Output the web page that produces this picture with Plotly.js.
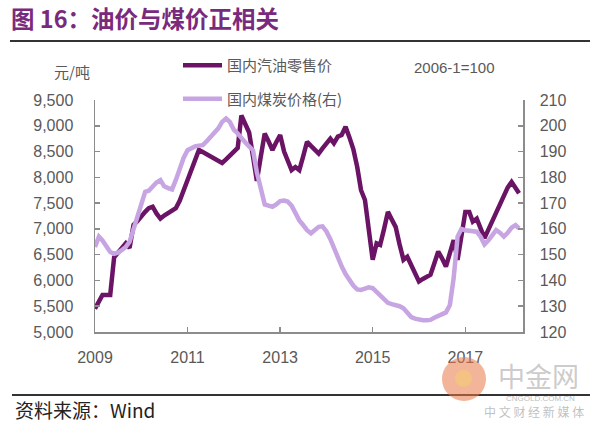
<!DOCTYPE html>
<html>
<head>
<meta charset="utf-8">
<script src="https://cdn.plot.ly/plotly-3.0.1.min.js"></script>
<style>
html,body{margin:0;padding:0;background:#fff;}
#chart{width:600px;height:429px;}
</style>
</head>
<body>
<div id="chart"></div>
<script>
// ---- data (monthly, 2009-01 .. 2018-03) ----
const startYear = 2009;
const oilName = '国内汽油零售价';
const coalName = '国内煤炭价格(右)';
const oilPrice = [
  5450, 5600, 5720, 5720, 5720, 6450, 6550, 6650, 6720, 6630, 7080, 7150,
  7250, 7330, 7400, 7430, 7300, 7200, 7260, 7310, 7350, 7400, 7550, 7750,
  7950, 8150, 8350, 8530, 8490, 8450, 8400, 8360, 8320, 8280, 8350, 8420,
  8500, 8570, 9200, 9050, 8870, 8400, 7930, 8400, 8850, 8700, 8530, 8680,
  8820, 8500, 8300, 8140, 8200, 8140, 8400, 8690, 8610, 8540, 8460, 8560,
  8660, 8750, 8660, 8790, 8820, 8980, 8780, 8550, 8200, 7750, 7560, 7000,
  6400, 6720, 6690, 7000, 7330, 7180, 7040, 6700, 6400, 6460, 6300, 6120,
  5980, 6030, 6070, 6110, 6330, 6560, 6430, 6270, 6530, 6780, 6400, 6900,
  7330, 7330, 7140, 7200, 7000, 6820, 6980, 7150, 7300, 7480, 7650, 7800,
  7910, 7800, 7690
];
const coalIndex = [
  153, 157, 155.5, 153, 151, 150.3, 150.8, 151.8, 153, 155, 160, 165,
  170, 174.4, 174.8, 176.5, 178, 178.9, 176.5, 175.8, 175.3, 179, 184, 187.5,
  190.5, 191.5, 192, 192.3, 192.5, 194, 195.5, 197.5, 199, 201.5, 202.8, 201.5,
  198.5, 197, 195, 193.5, 192, 190.5, 182, 175, 169.5, 169, 168.6, 169.5,
  170.8, 171, 170.6, 169, 166, 163.3, 161.5, 159.5, 158.3, 159.5, 160.8, 161,
  159, 156, 152.5, 148.5, 145.5, 142.5, 140.2, 138, 136.5, 136.3, 136.8, 137.3,
  137, 135.5, 134.3, 133.2, 131.3, 130.8, 130.5, 130, 129.2, 127.5, 125.8, 125.2,
  124.7, 124.6, 124.6, 124.7, 125.5, 126.3, 127, 127.6, 130.5, 141, 157, 160,
  159.5, 159.2, 159, 158.9, 157, 154, 155.5, 157.5, 159.5, 158.5, 157, 158.5,
  160.5, 161.5, 160.2
];
const leftTicks = [5000, 5500, 6000, 6500, 7000, 7500, 8000, 8500, 9000, 9500];
const rightTicks = [120, 130, 140, 150, 160, 170, 180, 190, 200, 210];

// month labels
const months = oilPrice.map((_, i) => {
  const y = startYear + Math.floor(i / 12);
  const m = (i % 12) + 1;
  return y + '-' + String(m).padStart(2, '0') + '-01';
});

// ---- layout helpers (pixel -> paper) ----
const W = 600, H = 429, ML = 95, MR = 77, MT = 100, MB = 97;
const PW = W - ML - MR, PH = H - MT - MB;
const px = x => (x - ML) / PW;
const py = y => (H - MB - y) / PH;

const grey = '#595959';
const axisCol = '#8c8c8c';
const latin = 'Liberation Sans, Arial, sans-serif';
const cjk = 'Noto Sans CJK SC, Liberation Sans, sans-serif';

const traces = [
  {
    x: months, y: coalIndex, name: coalName, yaxis: 'y2', type: 'scatter', mode: 'lines',
    line: {color: '#c7a4e2', width: 4.5}, legendrank: 2, legendgroup: 'b'
  },
  {
    x: months, y: oilPrice, name: oilName, type: 'scatter', mode: 'lines',
    line: {color: '#6b1466', width: 4.5}, legendrank: 1, legendgroup: 'a'
  }
];

const layout = {
  width: W, height: H,
  margin: {l: ML, r: MR, t: MT, b: MB, pad: 0},
  paper_bgcolor: '#fff', plot_bgcolor: '#fff',
  font: {family: latin, size: 16, color: grey},
  showlegend: true,
  legend: {
    x: px(178), xanchor: 'left', y: py(49), yanchor: 'top',
    font: {family: cjk, size: 15, color: grey},
    bgcolor: 'rgba(0,0,0,0)', itemwidth: 39, tracegroupgap: 11
  },
  xaxis: {
    type: 'date', range: ['2009-01-01', '2018-04-01'],
    tick0: '2009-01-01', dtick: 'M24', tickformat: '%Y',
    showline: true, linecolor: axisCol, linewidth: 1.5,
    ticks: 'inside', ticklen: 5, tickcolor: axisCol, tickwidth: 1.5,
    showgrid: false, zeroline: false, ticklabelstandoff: 10,
    tickfont: {family: latin, size: 16, color: grey}
  },
  yaxis: {
    range: [5000, 9500], tickvals: leftTicks, tickformat: ',d',
    showline: true, linecolor: axisCol, linewidth: 1.5,
    ticks: 'inside', ticklen: 5, tickcolor: axisCol, tickwidth: 1.5,
    showgrid: false, zeroline: false, ticklabelstandoff: 17,
    tickfont: {family: latin, size: 16, color: grey}
  },
  yaxis2: {
    range: [120, 210], tickvals: rightTicks, overlaying: 'y', side: 'right',
    showline: true, linecolor: axisCol, linewidth: 1.5,
    ticks: 'inside', ticklen: 5, tickcolor: axisCol, tickwidth: 1.5,
    showgrid: false, zeroline: false, ticklabelstandoff: 12,
    tickfont: {family: latin, size: 16, color: grey}
  },
  shapes: [
    {type: 'line', xref: 'paper', yref: 'paper', x0: px(10), x1: px(590), y0: py(41), y1: py(41),
     line: {color: '#333', width: 2}},
    {type: 'line', xref: 'paper', yref: 'paper', x0: px(12), x1: px(590), y0: py(395), y1: py(395),
     line: {color: '#333', width: 2}},
    {type: 'circle', xref: 'paper', yref: 'paper', x0: px(442), x1: px(486), y0: py(357), y1: py(401),
     fillcolor: 'rgba(232,120,70,0.55)', line: {width: 0}, layer: 'above'},
    {type: 'circle', xref: 'paper', yref: 'paper', x0: px(455), x1: px(472), y0: py(370), y1: py(387),
     fillcolor: 'rgba(245,200,120,0.7)', line: {width: 0}, layer: 'above'}
  ],
  annotations: [
    {text: '<b>图 16：油价与煤价正相关</b>', xref: 'paper', yref: 'paper', x: px(9), y: py(18),
     xanchor: 'left', yanchor: 'middle', showarrow: false,
     font: {family: cjk, size: 23.5, color: '#7a2a7c'}},
    {text: '元/吨', xref: 'paper', yref: 'paper', x: px(72), y: py(71),
     xanchor: 'center', yanchor: 'middle', showarrow: false,
     font: {family: cjk, size: 15, color: grey}},
    {text: '2006-1=100', xref: 'paper', yref: 'paper', x: px(454), y: py(67),
     xanchor: 'center', yanchor: 'middle', showarrow: false,
     font: {family: latin, size: 15, color: grey}},
    {text: '资料来源：Wind', xref: 'paper', yref: 'paper', x: px(13), y: py(409),
     xanchor: 'left', yanchor: 'middle', showarrow: false,
     font: {family: cjk, size: 19, color: '#222'}},
    {text: '中金网', xref: 'paper', yref: 'paper', x: px(538), y: py(375),
     xanchor: 'center', yanchor: 'middle', showarrow: false,
     font: {family: cjk, size: 27, color: 'rgba(190,190,190,0.8)'}},
    {text: 'CNGOLD.COM.CN', xref: 'paper', yref: 'paper', x: px(540), y: py(398),
     xanchor: 'center', yanchor: 'middle', showarrow: false,
     font: {family: latin, size: 8, color: 'rgba(180,180,180,0.9)'}},
    {text: '中 文 财 经 新 媒 体', xref: 'paper', yref: 'paper', x: px(534), y: py(411),
     xanchor: 'center', yanchor: 'middle', showarrow: false,
     font: {family: cjk, size: 12, color: 'rgba(185,185,185,0.9)'}}
  ]
};

Plotly.newPlot('chart', traces, layout, {displayModeBar: false, staticPlot: true});
</script>
</body>
</html>
